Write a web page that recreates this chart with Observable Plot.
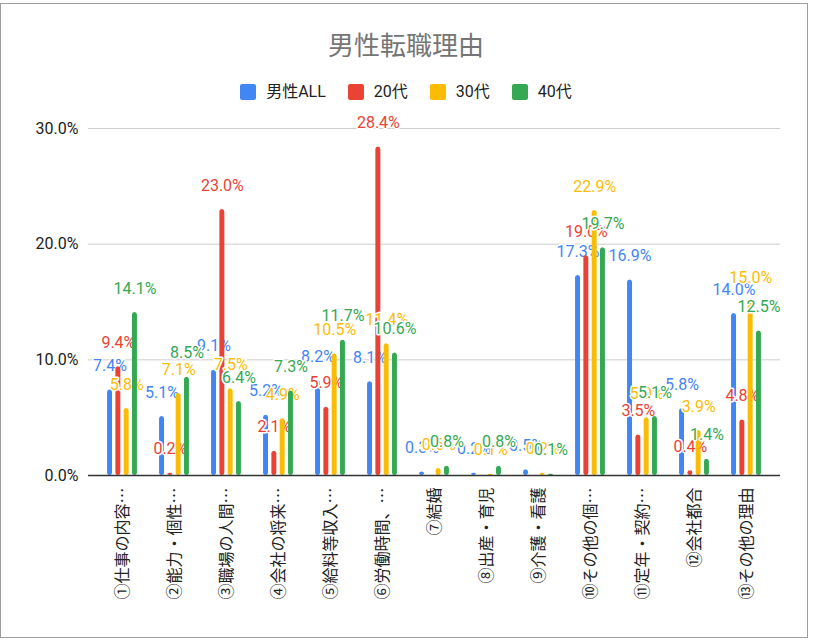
<!DOCTYPE html>
<html><head><meta charset="utf-8">
<script src="https://cdn.jsdelivr.net/npm/d3@7"></script>
<script src="https://cdn.jsdelivr.net/npm/@observablehq/plot@0.6"></script>
<style>
body{margin:0;background:#fff;width:814px;height:640px;position:relative;overflow:hidden;font-family:Roboto,"Noto Sans CJK JP",sans-serif}
#frame{position:absolute;left:0;top:3px;width:806px;height:633px;border:1px solid #9e9e9e;}
#title{position:absolute;left:0;width:812px;top:28px;text-align:center;font-size:26px;line-height:32px;color:#757575;font-family:"Noto Sans CJK JP",sans-serif}
#legend{position:absolute;top:82px;left:0;width:812px;display:flex;justify-content:center;align-items:center;font-size:16px;color:#222;line-height:20px}
#legend .item{display:flex;align-items:center;margin:0 11px}
#legend .sw{width:16px;height:16px;border-radius:2px;margin-right:10px}
#chart{position:absolute;left:0;top:110px}
</style></head>
<body>
<div id="frame"></div>
<div id="title">男性転職理由</div>
<div id="legend"></div>
<div id="chart"></div>
<script>
const categories = ["①仕事の内容…","②能力・個性…","③職場の人間…","④会社の将来…","⑤給料等収入…","⑥労働時間、…","⑦結婚","⑧出産・育児","⑨介護・看護","⑩その他の個…","⑪定年・契約…","⑫会社都合","⑬その他の理由"];
const series = ["男性ALL","20代","30代","40代"];
const colors = ["#4285f4","#ea4335","#fbbc04","#34a853"];
const valuesAll = [7.4,5.1,9.1,5.2,8.2,8.1,0.3,0.2,0.5,17.3,16.9,5.8,14.0];
const values20  = [9.4,0.2,23.0,2.1,5.9,28.4,null,null,null,19.0,3.5,0.4,4.8];
const values30  = [5.8,7.1,7.5,4.9,10.5,11.4,0.6,0.1,0.2,22.9,5.0,3.9,15.0];
const values40  = [14.1,8.5,6.4,7.3,11.7,10.6,0.8,0.8,0.1,19.7,5.1,1.4,12.5];
const yTicks = [0,10,20,30];

const seriesValues = [valuesAll, values20, values30, values40];
const data = categories.flatMap((c,i)=>series.map((s,j)=>({category:c, series:s, value:seriesValues[j][i]})))
  .filter(d => d.value != null);

const legend = document.getElementById("legend");
series.forEach((s,i)=>{
  const it = document.createElement("div"); it.className="item";
  it.innerHTML = `<div class="sw" style="background:${colors[i]}"></div><span>${s}</span>`;
  legend.appendChild(it);
});

const W = 814, ML = 88, MR = 34;
const xOpts = {type: "band", domain: categories, range: [ML, W - MR], paddingInner: 0, paddingOuter: 0.15};
const bw = Plot.scale({x: xOpts}).bandwidth;
const barStep = 8.3, barW = 5;

const fmt = d => d.toFixed(1) + "%";
const plot = Plot.plot({
  width: W, height: 510,
  marginLeft: ML, marginRight: MR, marginTop: 18, marginBottom: 145,
  style: {fontFamily: "Roboto, 'Noto Sans CJK JP', sans-serif", background: "transparent", overflow: "visible"},
  x: {domain: categories, paddingInner: 0, paddingOuter: 0.15, axis: null},
  y: {domain: [0,30], label: null, axis: null},
  color: {domain: series, range: colors},
  marks: [
    Plot.ruleY(yTicks.slice(1), {stroke: "#cccccc", strokeWidth: 1}),
    Plot.axisY({ticks: yTicks, tickFormat: fmt, tickSize: 0, tickPadding: 10, fontSize: 16, fill: "#222", label: null}),
    Plot.axisX({tickRotate: -90, tickSize: 0, tickPadding: 12, label: null, fontSize: 16, fill: "#222", fontFamily: "'Noto Sans CJK JP', sans-serif"}),
    ...series.flatMap((s, j) => {
      const sd = data.filter(d => d.series === s);
      const off = (j - 1.5) * barStep;
      return [
        Plot.barY(sd, {x: "category", y: "value", fill: "series", rx: 2.5,
          insetLeft: bw / 2 + off - barW / 2, insetRight: bw / 2 - off - barW / 2}),
        Plot.text(sd, {x: "category", y: "value", text: d => fmt(d.value), fill: "series",
          stroke: "white", strokeWidth: 3, dx: off, dy: -24, fontSize: 16})
      ];
    }),
    Plot.ruleY([0], {stroke: "#333333", strokeWidth: 1.5})
  ]
});
document.getElementById("chart").appendChild(plot);
</script>
</body></html>
